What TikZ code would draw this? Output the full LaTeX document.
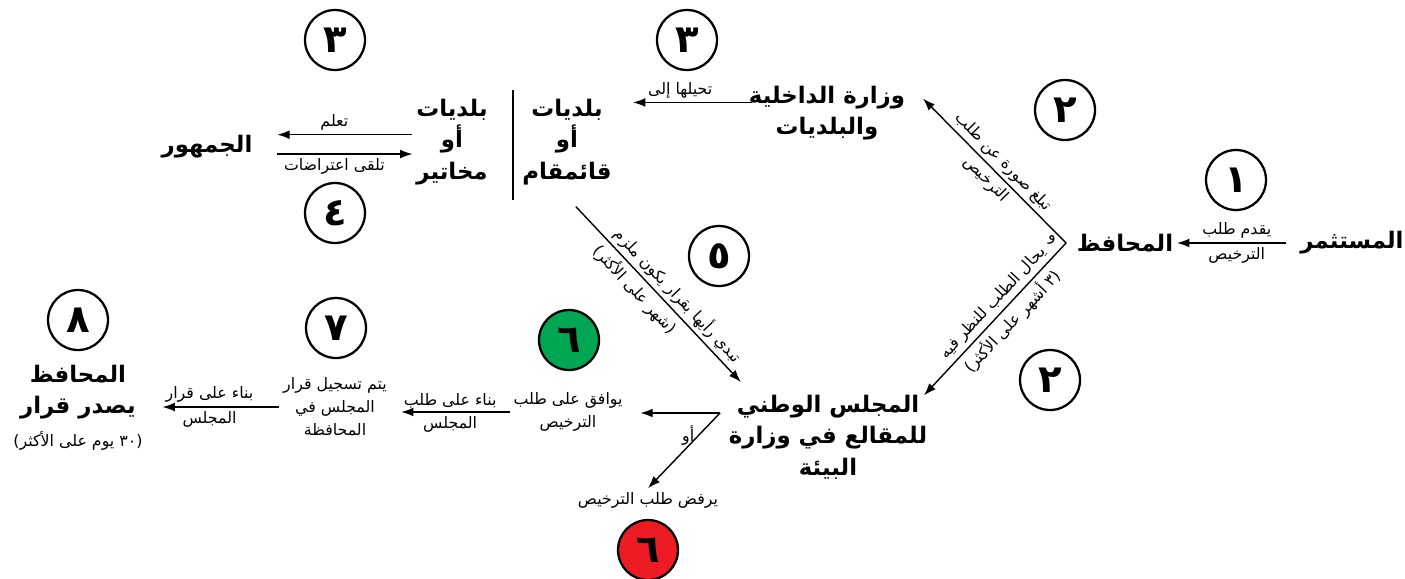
\documentclass[tikz,border=0pt]{standalone}
\usepackage{fontspec}
\newfontfamily\arabicfont[Script=Arabic]{DejaVu Sans}
\TeXXeTstate=1
\usetikzlibrary{arrows.meta}
\definecolor{approvegreen}{RGB}{0,166,81}
\definecolor{rejectred}{RGB}{237,28,36}
\newcommand{\ar}[1]{\beginR #1\endR}
\tikzset{flow/.style={-{Latex[length=7pt,width=5pt]},line width=.8pt},
 actor/.style={font=\arabicfont\bfseries\fontsize{13}{18}\selectfont,align=center,inner sep=2pt},
 note/.style={font=\arabicfont\fontsize{9}{13}\selectfont,align=center,inner sep=2pt},
 stepnum/.style={circle,draw,line width=1.3pt,minimum size=1.2cm,inner sep=0pt,
  font=\arabicfont\bfseries\fontsize{22}{26}\selectfont}}

\begin{document}
\begin{tikzpicture}[x=0.02cm,y=-0.02cm]
\useasboundingbox (0,0) rectangle (1405,578);
% actors
\node[actor] (investor) at (1352,243) {\ar{المستثمر}};
\node[actor] (governor) at (1125,243) {\ar{المحافظ}};
\node[actor] (ministry) at (827,113) {\ar{وزارة الداخلية}\\\ar{والبلديات}};
\node[actor] (qaim) at (567,142) {\ar{بلديات}\\\ar{أو}\\\ar{قائمقام}};
\node[actor] (mukhtar) at (452,142) {\ar{بلديات}\\\ar{أو}\\\ar{مخاتير}};
\node[actor] (public) at (207,147) {\ar{الجمهور}};
\node[actor] (council) at (828,437) {\ar{المجلس الوطني}\\\ar{للمقالع في وزارة}\\\ar{البيئة}};
\node[actor] (decision) at (78,392) {\ar{المحافظ}\\\ar{يصدر قرار}};
\node[note] (deadline) at (78,441) {\ar{(٣٠ يوم على الأكثر)}};
\node[note] (approve) at (568,412) {\ar{يوافق على طلب}\\\ar{الترخيص}};
\node[note] (reject) at (648,500) {\ar{يرفض طلب الترخيص}};
\node[note] (register) at (335,407) {\ar{يتم تسجيل قرار}\\\ar{المجلس في}\\\ar{المحافظة}};
\coordinate (fork) at ([xshift=-4pt]governor.west);
\coordinate (split) at (720,413);
\node[note] (waw) at (1052,240) {\ar{و}};
% step numbers
\foreach \id/\x/\y/\num/\shade in {one/1236/180/١/white,twoa/1065/110/٢/white,
 twob/1050/380/٢/white,threea/687/40/٣/white,threeb/335/40/٣/white,
 four/335/213/٤/white,five/719/256/٥/white,sixa/569/340/٦/approvegreen,
 sixb/648/550/٦/rejectred,seven/336/328/٧/white,eight/78/320/٨/white}
 \node[stepnum,fill=\shade] (step\id) at (\x,\y) {\num};
% divider
\draw[line width=1.3pt] (513,90) -- (513,200);
% connectors
\draw[flow,shorten <=6pt] (investor) -- (governor)
 node[note,above,midway] {\ar{يقدم طلب}} node[note,below,midway] {\ar{الترخيص}};
\draw[flow] (fork) -- ([xshift=8pt]ministry.10)
 node[note,sloped,above,midway] {\ar{تبلغ صورة عن طلب}}
 node[note,sloped,below,midway] {\ar{الترخيص}};
\draw[flow] (fork) -- ([xshift=-4pt]council.22)
 node[note,sloped,above,pos=.45] {\ar{يحال الطلب للنظر فيه}}
 node[note,sloped,below,pos=.45] {\ar{(٣ أشهر على الأكثر)}};
\draw[flow,shorten <=-4pt,shorten >=10pt] ([yshift=6pt]ministry.west) -- ([yshift=6pt]ministry.west -| qaim.east)
 node[note,above,midway] {\ar{تحيلها إلى}};
\draw[flow,shorten >=12pt] ([yshift=7pt]public.east -| mukhtar.west) -- ([yshift=7pt]public.east)
 node[note,above,midway] {\ar{تعلم}};
\draw[flow,shorten <=12pt] ([yshift=-4pt]public.east) -- ([yshift=-4pt]public.east -| mukhtar.west)
 node[note,below,midway] {\ar{تلقى اعتراضات}};
\draw[flow] ([shift={(5pt,-10pt)}]qaim.south) -- ([shift={(9pt,5pt)}]council.north west)
 node[note,sloped,above,pos=.56] {\ar{تبدي رأيها بقرار يكون ملزم}}
 node[note,sloped,below,pos=.42] {\ar{(شهر على الأكثر)}};
\draw[flow,shorten >=8pt] (split) -- (split -| approve.east);
\draw[flow] (split) -- (reject.north)
 node[note,pos=.3,left] {\ar{أو}};
\draw[flow,shorten >=6pt] (approve.west) -- (approve.west -| register.east)
 node[note,above,midway] {\ar{بناء على طلب}} node[note,below,midway] {\ar{المجلس}};
\draw[flow,shorten >=13pt] (register.west) -- (register.west -| decision.east)
 node[note,above,midway] {\ar{بناء على قرار}} node[note,below,midway] {\ar{المجلس}};
\end{tikzpicture}
\end{document}
